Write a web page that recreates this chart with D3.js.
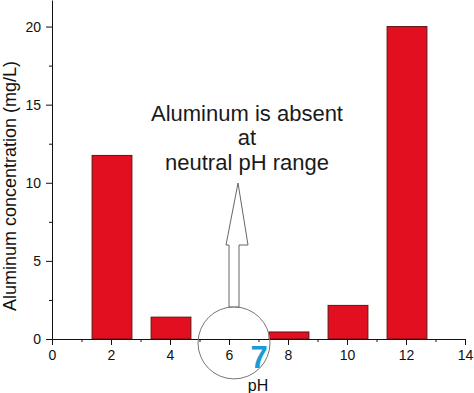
<!DOCTYPE html>
<html>
<head>
<meta charset="utf-8">
<script src="https://cdn.jsdelivr.net/npm/d3@7"></script>
<style>
  body { margin: 0; background: #fff; }
  svg { font-family: "Liberation Sans", Arial, sans-serif; }
</style>
</head>
<body>
<script>
// data
var phValues = [2, 4, 8, 10, 12];
var aluminum = [11.75, 1.4, 0.45, 2.15, 20];
var xTicks = [0, 2, 4, 6, 8, 10, 12, 14];
var yTicks = [0, 5, 10, 15, 20];
var noteLines = ["Aluminum is absent", "at", "neutral pH range"];

var width = 474, height = 393;

var svg = d3.select("body").append("svg")
    .attr("width", width)
    .attr("height", height);

var x = d3.scaleLinear().domain([0, 14]).range([52, 465]);
var y = d3.scaleLinear().domain([0, 21.7]).range([339, 0]);

// bars
var barW = x(1.35) - x(0);
svg.selectAll(".bar")
  .data(phValues)
  .enter()
  .append("rect")
    .attr("class", "bar")
    .attr("x", function(d){ return x(d) - barW / 2 + 1; })
    .attr("y", function(d, i){ return y(aluminum[i]); })
    .attr("width", barW)
    .attr("height", function(d, i){ return y(0) - y(aluminum[i]); })
    .attr("fill", "#e20f20")
    .attr("stroke", "#5e1515")
    .attr("stroke-width", 1);

// x axis
svg.append("g")
    .attr("transform", "translate(0," + y(0) + ")")
    .call(d3.axisBottom(x).tickValues(xTicks).tickSize(6).tickPadding(5).tickSizeOuter(0));
svg.append("g")
    .attr("transform", "translate(0," + y(0) + ")")
    .call(d3.axisBottom(x).tickValues(d3.range(1, 14, 2)).tickSize(3).tickFormat("").tickSizeOuter(0))
    .select(".domain").remove();

// y axis
svg.append("g")
    .attr("transform", "translate(" + x(0) + ",0)")
    .call(d3.axisLeft(y).tickValues(yTicks).tickSize(6).tickPadding(5).tickSizeOuter(0));
svg.append("g")
    .attr("transform", "translate(" + x(0) + ",0)")
    .call(d3.axisLeft(y).tickValues([2.5, 7.5, 12.5, 17.5]).tickSize(3).tickFormat("").tickSizeOuter(0))
    .select(".domain").remove();

svg.selectAll(".tick text")
    .attr("font-size", 14)
    .attr("fill", "#111")
    .attr("font-family", "Liberation Sans, Arial, sans-serif");
svg.selectAll(".domain, .tick line").attr("stroke", "#111");

// y label
svg.append("text")
    .attr("transform", "translate(16,186) rotate(-90)")
    .attr("text-anchor", "middle")
    .attr("font-size", 18)
    .attr("fill", "#111")
    .text("Aluminum concentration (mg/L)");

// circle around neutral pH
var cx = x(6.17), cy = y(-0.25);
svg.append("circle")
    .attr("cx", cx)
    .attr("cy", cy)
    .attr("r", 36)
    .attr("fill", "none")
    .attr("stroke", "#777")
    .attr("stroke-width", 1);

// hollow arrow
var ax = cx, base = cy - 36, headY = 245, tipY = 183;
var arrow = [
  [ax - 5, base], [ax - 5, headY], [ax - 8, headY], [ax + 4, tipY],
  [ax + 14, headY], [ax + 5, headY], [ax + 5, base]
];
svg.append("path")
    .attr("d", d3.line()(arrow) + "Z")
    .attr("fill", "#fff")
    .attr("stroke", "#666")
    .attr("stroke-width", 1);

// note
svg.selectAll(".note")
  .data(noteLines)
  .enter()
  .append("text")
    .attr("class", "note")
    .attr("x", 247)
    .attr("y", function(d, i){ return [121, 145, 170][i]; })
    .attr("text-anchor", "middle")
    .attr("font-size", 22)
    .attr("fill", "#1a1a1a")
    .text(function(d){ return d; });

// big 7 and pH
svg.append("text")
    .attr("x", 259)
    .attr("y", 368)
    .attr("text-anchor", "middle")
    .attr("font-size", 31)
    .attr("font-weight", "bold")
    .attr("fill", "#1b9ad8")
    .text("7");
svg.append("text")
    .attr("x", 258)
    .attr("y", 391)
    .attr("text-anchor", "middle")
    .attr("font-size", 16)
    .attr("fill", "#111")
    .text("pH");
</script>
</body>
</html>
